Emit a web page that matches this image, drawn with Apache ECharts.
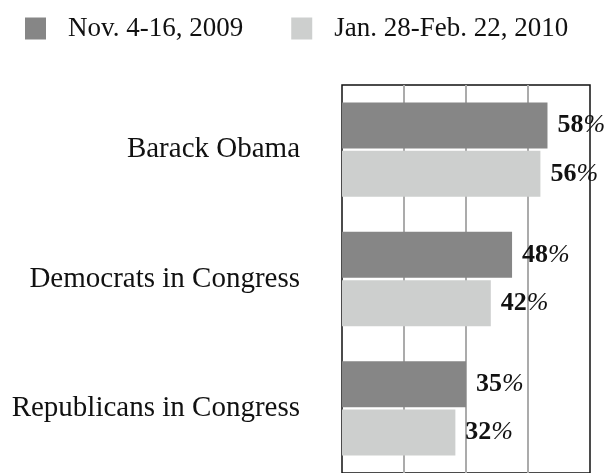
<!DOCTYPE html>
<html>
<head>
<meta charset="utf-8">
<title>Ratings</title>
<script src="https://cdn.jsdelivr.net/npm/echarts@6/dist/echarts.min.js"></script>
<style>
  html, body { margin: 0; padding: 0; background: #fff; }
  #chart { width: 607px; height: 473px; }
</style>
</head>
<body>
<div id="chart"></div>
<script>
  // data
  var categories = ['Barack Obama', 'Democrats in Congress', 'Republicans in Congress']
  var seriesNames = ['Nov. 4-16, 2009', 'Jan. 28-Feb. 22, 2010']
  var nov2009 = [58, 48, 35]
  var jan2010 = [56, 42, 32]
  var colors = ['#868686', '#cdcfce']

  var serif = '"Liberation Serif", "DejaVu Serif", serif'

  function makeSeries(name, values, color) {
    return {
      name: name,
      type: 'bar',
      data: values,
      barWidth: 46,
      barGap: '5%',
      itemStyle: { color: color },
      label: {
        show: true,
        position: 'right',
        distance: 10,
        formatter: function (p) {
          return '{n|' + p.value + '}{p|%}'
        },
        rich: {
          n: { fontFamily: serif, fontSize: 26, fontWeight: 'bold', color: '#111' },
          p: { fontFamily: serif, fontSize: 26, fontStyle: 'italic', color: '#111' }
        }
      }
    }
  }

  var myChart = echarts.init(document.getElementById('chart'))
  myChart.setOption({
    animation: false,
    color: colors,
    legend: {
      top: 15,
      left: 25,
      padding: 0,
      itemWidth: 21,
      itemHeight: 22,
      itemGap: 48,
      icon: 'rect',
      data: seriesNames,
      textStyle: {
        fontFamily: serif,
        fontSize: 27,
        color: '#111',
        padding: [0, 0, 0, 17]
      }
    },
    grid: {
      left: 342,
      right: 17,
      top: 85,
      bottom: -2,
      show: true,
      borderColor: '#111',
      borderWidth: 1.5
    },
    xAxis: {
      type: 'value',
      min: 0,
      max: 70,
      interval: 17.5,
      axisLabel: { show: false },
      axisLine: { show: false },
      axisTick: { show: false },
      splitLine: {
        show: true,
        showMinLine: false,
        showMaxLine: false,
        lineStyle: { color: '#ababab', width: 2 }
      }
    },
    yAxis: {
      type: 'category',
      data: categories,
      inverse: true,
      axisLine: { show: false },
      axisTick: { show: false },
      axisLabel: {
        margin: 42,
        fontFamily: serif,
        fontSize: 29,
        color: '#111'
      }
    },
    series: [
      makeSeries(seriesNames[0], nov2009, colors[0]),
      makeSeries(seriesNames[1], jan2010, colors[1])
    ]
  })
</script>
</body>
</html>
